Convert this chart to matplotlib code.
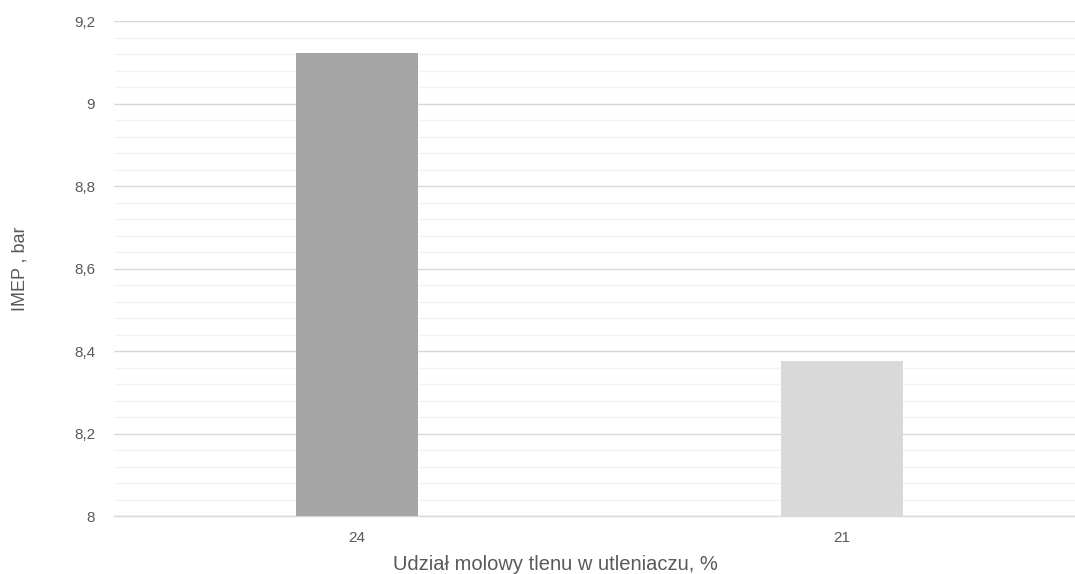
import matplotlib.pyplot as plt
from matplotlib.ticker import MultipleLocator, FuncFormatter

categories = ['24', '21']
imep = [9.122, 8.376]
bar_colors = ['#a5a5a5', '#d9d9d9']

plt.rcParams['font.family'] = ['Liberation Sans', 'DejaVu Sans']

fig = plt.figure(figsize=(10.75, 5.74), dpi=100)
ax = fig.add_axes([0.1065, 0.101, 0.9023, 0.8624])

x = range(len(categories))
ax.bar(x, imep, width=0.25, color=bar_colors, zorder=3)

ax.set_xlim(-0.5, 1.5)
ax.set_ylim(8, 9.2)
ax.set_xticks(list(x))
ax.set_xticklabels(categories)

ax.yaxis.set_major_locator(MultipleLocator(0.2))
ax.yaxis.set_minor_locator(MultipleLocator(0.04))
ax.yaxis.set_major_formatter(
    FuncFormatter(lambda v, p: ('%g' % round(v, 2)).replace('.', ',')))

ax.grid(axis='y', which='major', color='#d9d9d9', linewidth=1.0, zorder=0)
ax.grid(axis='y', which='minor', color='#f2f2f2', linewidth=1.0, zorder=0)
ax.set_axisbelow(True)

for side in ['top', 'right', 'left']:
    ax.spines[side].set_visible(False)
ax.spines['bottom'].set_color('#d9d9d9')
ax.spines['bottom'].set_linewidth(1.0)

ax.tick_params(axis='both', which='both', length=0, labelsize=11,
               labelcolor='#595959')
ax.tick_params(axis='y', pad=14)
ax.tick_params(axis='x', pad=11)

ax.set_ylabel('IMEP , bar', fontsize=13, color='#595959', va='center')
ax.yaxis.set_label_coords(-0.0974, 0.5)
ax.set_xlabel('Udział molowy tlenu w utleniaczu, %', fontsize=14.5,
              color='#595959', va='center')
ax.xaxis.set_label_coords(0.4545, -0.097)

fig.savefig('out.png', dpi=100)
